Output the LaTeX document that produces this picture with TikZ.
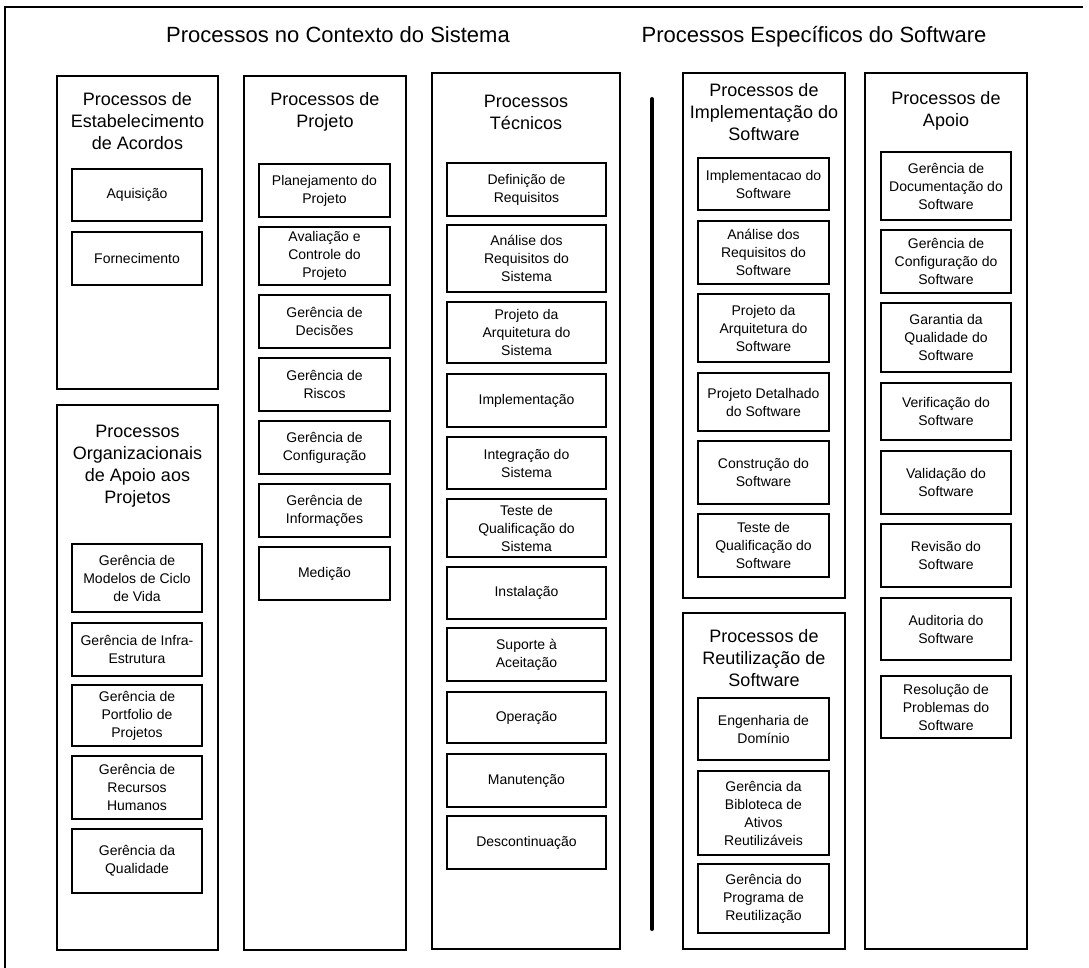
\documentclass[tikz,border=0pt]{standalone}
\usepackage{fontspec}
\setmainfont{Liberation Sans}
\begin{document}
\begin{tikzpicture}[x=1pt,y=-1pt,
  grp/.style={draw, line width=1.1pt, inner sep=0pt},
  pbox/.style={draw, line width=1.1pt, inner sep=0pt, align=center,
    font=\fontsize{14}{18}\selectfont, minimum width=130pt},
  wbox/.style={pbox, minimum width=159pt},
  ttl/.style={align=center, font=\fontsize{18}{22}\selectfont, inner sep=0pt},
  head/.style={font=\fontsize{22}{26}\selectfont, inner sep=0pt, anchor=base},
  divider/.style={line width=4pt, line cap=round}]
\useasboundingbox (0,0) rectangle (1089,968);

% outer frame (top and left edges)
\coordinate (fTL) at (5,7);
\coordinate (fTR) at (1083,7);
\coordinate (fBL) at (5,968);
\draw[line width=1.3pt] (fTR) -- (fTL) -- (fBL);

% headings
\node[head] (hsys) at (338,43) {Processos no Contexto do Sistema};
\node[head] (hsw) at (814,43) {Processos Específicos do Software};

% divider between the two halves
\coordinate (dTop) at (652,99);
\coordinate (dBot) at (652,929);
\draw[divider] (dTop) -- (dBot);

% ---- column 1: agreements / organizational support
\node[grp, minimum width=161pt, minimum height=313pt] (gAcordos) at (137.5,232.5) {};
\node[ttl] (tAcordos) at (137.5,121) {Processos de\\Estabelecimento\\de Acordos};
\node[pbox, minimum height=52pt] (aquis) at (137,195) {Aquisição};
\node[pbox, minimum height=53pt] (forn) at (137,258.5) {Fornecimento};

\node[grp, minimum width=161pt, minimum height=545pt] (gOrg) at (137.5,677.5) {};
\node[ttl] (tOrg) at (137.5,466) {Processos\\Organizacionais\\de Apoio aos\\Projetos};
\node[pbox, minimum height=68pt] (modelos) at (137,578) {Gerência de\\Modelos de Ciclo\\de Vida};
\node[pbox, minimum height=53pt] (infra) at (137,649.5) {Gerência de Infra-\\Estrutura};
\node[pbox, minimum height=61pt] (portf) at (137,715.5) {Gerência de\\Portfolio de\\Projetos};
\node[pbox, minimum height=63pt] (rh) at (137,787.5) {Gerência de\\Recursos\\Humanos};
\node[pbox, minimum height=64pt] (qual) at (137,861) {Gerência da\\Qualidade};

% ---- column 2: project processes
\node[grp, minimum width=162pt, minimum height=874pt] (gProj) at (325,513) {};
\node[ttl] (tProj) at (325,112) {Processos de\\Projeto};
\node[pbox, minimum width=131pt, minimum height=53pt] (plan) at (324.5,190.5) {Planejamento do\\Projeto};
\node[pbox, minimum width=131pt, minimum height=58pt] (aval) at (324.5,256) {Avaliação e\\Controle do\\Projeto};
\node[pbox, minimum width=131pt, minimum height=53pt] (decis) at (324.5,321.5) {Gerência de\\Decisões};
\node[pbox, minimum width=131pt, minimum height=53pt] (riscos) at (324.5,384.5) {Gerência de\\Riscos};
\node[pbox, minimum width=131pt, minimum height=53pt] (config) at (324.5,447.5) {Gerência de\\Configuração};
\node[pbox, minimum width=131pt, minimum height=53pt] (info) at (324.5,510.5) {Gerência de\\Informações};
\node[pbox, minimum width=131pt, minimum height=53pt] (medic) at (324.5,573.5) {Medição};

% ---- column 3: technical processes
\node[grp, minimum width=188pt, minimum height=876pt] (gTec) at (526,511) {};
\node[ttl] (tTec) at (526,112) {Processos\\Técnicos};
\node[wbox, minimum height=53pt] (defreq) at (526.5,189.5) {Definição de\\Requisitos};
\node[wbox, minimum height=67pt] (anreq) at (526.5,258.5) {Análise dos\\Requisitos do\\Sistema};
\node[wbox, minimum height=61pt] (arqsis) at (526.5,332.5) {Projeto da\\Arquitetura do\\Sistema};
\node[wbox, minimum height=53pt] (impl) at (526.5,400.5) {Implementação};
\node[wbox, minimum height=52pt] (integ) at (526.5,463) {Integração do\\Sistema};
\node[wbox, minimum height=58pt] (tqsis) at (526.5,528) {Teste de\\Qualificação do\\Sistema};
\node[wbox, minimum height=52pt] (instal) at (526.5,593) {Instalação};
\node[wbox, minimum height=53pt] (suporte) at (526.5,654.5) {Suporte à\\Aceitação};
\node[wbox, minimum height=51pt] (oper) at (526.5,717.5) {Operação};
\node[wbox, minimum height=53pt] (manut) at (526.5,780.5) {Manutenção};
\node[wbox, minimum height=53pt] (descont) at (526.5,842.5) {Descontinuação};

% ---- column 4: software implementation / reuse
\node[grp, minimum width=162pt, minimum height=525pt] (gImpl) at (764,335.5) {};
\node[ttl] (tImpl) at (764,112.5) {Processos de\\Implementação do\\Software};
\node[pbox, minimum width=131pt, minimum height=52pt] (implsw) at (763.5,184) {Implementacao do\\Software};
\node[pbox, minimum width=131pt, minimum height=63pt] (anrsw) at (763.5,252.5) {Análise dos\\Requisitos do\\Software};
\node[pbox, minimum width=131pt, minimum height=68pt] (arqsw) at (763.5,328) {Projeto da\\Arquitetura do\\Software};
\node[pbox, minimum width=131pt, minimum height=58pt] (detsw) at (763.5,402) {Projeto Detalhado\\do Software};
\node[pbox, minimum width=131pt, minimum height=63pt] (constr) at (763.5,472.5) {Construção do\\Software};
\node[pbox, minimum width=131pt, minimum height=63pt] (tqsw) at (763.5,545.5) {Teste de\\Qualificação do\\Software};

\node[grp, minimum width=162pt, minimum height=336pt] (gReut) at (764,781) {};
\node[ttl] (tReut) at (764,658) {Processos de\\Reutilização de\\Software};
\node[pbox, minimum width=131pt, minimum height=62pt] (engdom) at (763.5,729) {Engenharia de\\Domínio};
\node[pbox, minimum width=131pt, minimum height=84pt] (biblio) at (763.5,813) {Gerência da\\Bibloteca de\\Ativos\\Reutilizáveis};
\node[pbox, minimum width=131pt, minimum height=69pt] (progr) at (763.5,898.5) {Gerência do\\Programa de\\Reutilização};

% ---- column 5: support processes
\node[grp, minimum width=162pt, minimum height=876pt] (gApoio) at (946,511) {};
\node[ttl] (tApoio) at (946,110.5) {Processos de\\Apoio};
\node[pbox, minimum height=68pt] (docsw) at (946,186) {Gerência de\\Documentação do\\Software};
\node[pbox, minimum height=63pt] (cfgsw) at (946,261.5) {Gerência de\\Configuração do\\Software};
\node[pbox, minimum height=69pt] (garsw) at (946,337.5) {Garantia da\\Qualidade do\\Software};
\node[pbox, minimum height=57pt] (versw) at (946,411.5) {Verificação do\\Software};
\node[pbox, minimum height=63pt] (valsw) at (946,482.5) {Validação do\\Software};
\node[pbox, minimum height=63pt] (revsw) at (946,555.5) {Revisão do\\Software};
\node[pbox, minimum height=62pt] (audsw) at (946,629) {Auditoria do\\Software};
\node[pbox, minimum height=62pt] (ressw) at (946,707) {Resolução de\\Problemas do\\Software};
\end{tikzpicture}
\end{document}
